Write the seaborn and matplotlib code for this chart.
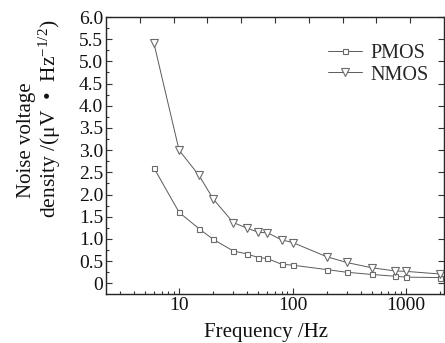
import numpy as np
import pandas as pd
import seaborn as sns
import matplotlib
matplotlib.use("Agg")
import matplotlib.pyplot as plt
from matplotlib.ticker import NullFormatter, LogLocator, MultipleLocator

freq = [6, 10, 15, 20, 30, 40, 50, 60, 80, 100, 200, 300, 500, 800, 1000, 2000]
pmos = [2.6, 1.6, 1.23, 0.99, 0.73, 0.66, 0.58, 0.56, 0.43, 0.41, 0.31, 0.25, 0.2, 0.16, 0.14, 0.13]
nmos = [5.41, 3.0, 2.43, 1.9, 1.37, 1.24, 1.15, 1.14, 0.98, 0.92, 0.6, 0.47, 0.35, 0.28, 0.27, 0.21]
series = ["PMOS", "NMOS"]
xtick_vals = [10, 100, 1000]
xtick_labels = ["10", "100", "1000"]
ytick_vals = [0, 0.5, 1.0, 1.5, 2.0, 2.5, 3.0, 3.5, 4.0, 4.5, 5.0, 5.5, 6.0]
ytick_labels = ["0", "0.5", "1.0", "1.5", "2.0", "2.5", "3.0", "3.5", "4.0", "4.5", "5.0", "5.5", "6.0"]

df = pd.DataFrame({
    "Frequency": freq * 2,
    "Noise": pmos + nmos,
    "Device": ["PMOS"] * len(freq) + ["NMOS"] * len(freq),
})

sns.set_style("ticks")
plt.rcParams["font.family"] = ["Liberation Serif", "DejaVu Serif"]
plt.rcParams["mathtext.fontset"] = "custom"
plt.rcParams["mathtext.rm"] = "Liberation Serif"
plt.rcParams["mathtext.it"] = "Liberation Serif:italic"

fig = plt.figure(figsize=(4.45, 3.43), dpi=100)
ax = fig.add_axes([106 / 445, 49 / 343, 338 / 445, 277 / 343])

sns.lineplot(data=df, x="Frequency", y="Noise", hue="Device", style="Device",
             hue_order=series, style_order=series,
             palette={"PMOS": "#5a5a5a", "NMOS": "#5a5a5a"},
             markers={"PMOS": "s", "NMOS": "v"}, dashes=False,
             linewidth=0.7, markerfacecolor="white",
             markeredgecolor="#6a6a6a", markeredgewidth=0.8, ax=ax, legend=True)

for line in ax.get_lines():
    if line.get_marker() == "s":
        line.set_markersize(3.6)
    elif line.get_marker() == "v":
        line.set_markersize(5.2)

ax.set_xscale("log")
ax.set_xlim(2.27, 2160)
ax.set_ylim(-0.24, 6.0)
ax.set_xticks(xtick_vals)
ax.set_xticklabels(xtick_labels)
ax.xaxis.set_minor_locator(LogLocator(base=10, subs=np.arange(2, 10)))
ax.xaxis.set_minor_formatter(NullFormatter())
ax.set_yticks(ytick_vals)
ax.set_yticklabels(ytick_labels)
ax.yaxis.set_minor_locator(MultipleLocator(0.25))

ax.tick_params(axis="both", which="both", direction="in", labelsize=14, colors="#333333",
               labelcolor="#111111", pad=2)
ax.tick_params(axis="both", which="major", length=4, width=0.8)
ax.tick_params(axis="both", which="minor", length=2.5, width=0.8)
ax.tick_params(axis="y", which="major", right=True)
ax.tick_params(axis="y", which="minor", right=False)

for s in ax.spines.values():
    s.set_visible(True)
    s.set_color("#444444")
    s.set_linewidth(1.0)

ax2 = ax.twiny()
ax2.set_xlim(0, 10)
ax2.set_xticks(range(1, 10))
ax2.tick_params(axis="x", direction="in", length=4, width=0.8, labeltop=False, colors="#333333")

ax.set_xlabel("")
ax.set_ylabel("")
fig.text(266 / 445, 6 / 343, "Frequency /Hz", fontsize=15, ha="center", va="baseline",
         color="#111111")
fig.text(27 / 445, (343 - 140) / 343, "Noise voltage", fontsize=15, rotation=90,
         ha="center", va="center", color="#111111")
fig.text(50 / 445, (343 - 119) / 343, "density /(μV\u2002•\u2002Hz$^{-1/2}$)", fontsize=15.5,
         rotation=90, ha="center", va="center", color="#111111")

handles, labels = ax.get_legend_handles_labels()
for h in handles:
    if h.get_marker() == "s":
        h.set_markersize(3.6)
    elif h.get_marker() == "v":
        h.set_markersize(5.2)
ax.legend(handles, labels, loc="upper right", bbox_to_anchor=(0.99, 0.945), frameon=False,
          fontsize=14.5, handlelength=1.7, handletextpad=0.4, labelspacing=0.1,
          borderaxespad=0.2)

fig.savefig("out.png", dpi=100, facecolor="white")
